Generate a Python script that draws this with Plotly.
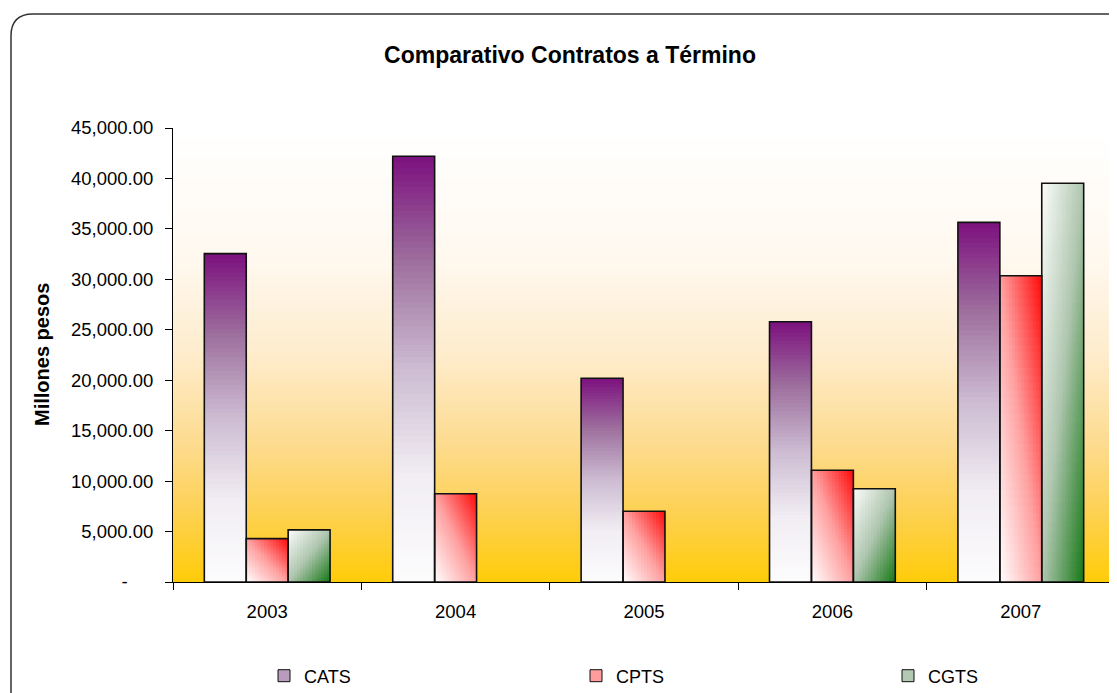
import base64
import struct
import zlib

import plotly.graph_objects as go

# ------------------------------------------------
# DATA
# ------------------------------------------------
years = ["2003", "2004", "2005", "2006", "2007"]
cats = [32550, 42200, 20200, 25800, 35650]
cpts = [4300, 8740, 7020, 11080, 30350]
cgts = [5170, None, None, 9240, 39530]

y_ticks = [0, 5000, 10000, 15000, 20000, 25000, 30000, 35000, 40000, 45000]

# the page body has an 8px margin, so the figure is drawn 8px smaller
W, H = 1109, 685


# ------------------------------------------------
# HELPERS
# ------------------------------------------------
def mix(stops, t):
    t = min(max(t, 0.0), 1.0)
    for (t0, c0), (t1, c1) in zip(stops[:-1], stops[1:]):
        if t <= t1:
            f = 0 if t1 == t0 else (t - t0) / (t1 - t0)
            return tuple(round(a + (b - a) * f) for a, b in zip(c0, c1))
    return stops[-1][1]


def rgb(c):
    return "rgb(%d,%d,%d)" % c


def gradient_png(stops, h=256, w=4):
    raw = b""
    for i in range(h):
        r, g, b = mix(stops, i / (h - 1))
        raw += b"\x00" + bytes([r, g, b]) * w

    def chunk(tag, data):
        out = struct.pack(">I", len(data)) + tag + data
        return out + struct.pack(">I", zlib.crc32(tag + data) & 0xFFFFFFFF)

    png = b"\x89PNG\r\n\x1a\n"
    png += chunk(b"IHDR", struct.pack(">IIBBBBB", w, h, 8, 2, 0, 0, 0))
    png += chunk(b"IDAT", zlib.compress(raw))
    png += chunk(b"IEND", b"")
    return "data:image/png;base64," + base64.b64encode(png).decode()


# plot area background: white on top, gold at the bottom
bg_stops = [
    (0.00, (255, 255, 255)),
    (0.30, (255, 248, 238)),
    (0.50, (254, 236, 204)),
    (0.70, (253, 219, 142)),
    (0.85, (253, 209, 82)),
    (1.00, (255, 204, 10)),
]

cats_stops = [  # bottom -> top
    (0.00, (252, 252, 253)),
    (0.25, (241, 237, 243)),
    (0.50, (205, 188, 210)),
    (0.75, (158, 112, 158)),
    (1.00, (124, 16, 126)),
]
cpts_stops = [(0.0, (255, 255, 255)), (0.5, (255, 160, 160)), (1.0, (255, 10, 10))]
cgts_stops = [(0.0, (252, 253, 252)), (0.5, (175, 198, 175)), (1.0, (22, 120, 22))]

bar_w = 0.2225
offsets = [-1.5 * bar_w, -0.5 * bar_w, 0.5 * bar_w]


def gradient_bars(values, off, stops, shade, cols, rows):
    # each bar is filled with a grid of small overlapping cells
    xs, bases, hs, offs, widths, colors = [], [], [], [], [], []
    for yr, v in zip(years, values):
        if v is None:
            continue
        for j in range(cols):
            fx = (j + 0.5) / cols
            cw = bar_w / cols * (1 if j == cols - 1 else 1.6)
            for k in range(rows):
                fy = (k + 0.5) / rows
                xs.append(yr)
                bases.append(v * k / rows)
                hs.append(v / rows * (1 if k == rows - 1 else 1.6))
                offs.append(off + j * bar_w / cols)
                widths.append(cw)
                colors.append(rgb(mix(stops, shade(fx, fy))))
    return go.Bar(
        x=xs, y=hs, base=bases, offset=offs, width=widths,
        marker=dict(color=colors, line=dict(width=0)),
        showlegend=False, hoverinfo="skip",
    )


fig = go.Figure()

# gradient fills
fig.add_trace(gradient_bars(cats, offsets[0], cats_stops, lambda fx, fy: fy, 1, 70))
fig.add_trace(gradient_bars(cpts, offsets[1], cpts_stops, lambda fx, fy: (fx + fy) / 2, 14, 40))
fig.add_trace(gradient_bars(cgts, offsets[2], cgts_stops, lambda fx, fy: (fx + 1 - fy) / 2, 14, 40))

# outlines
for vals, off in zip([cats, cpts, cgts], offsets):
    fig.add_trace(go.Bar(
        x=years, y=vals, offset=off, width=bar_w,
        marker=dict(color="rgba(0,0,0,0)", line=dict(color="#111111", width=1.6)),
        showlegend=False,
        hovertemplate="%{x}: %{y:,.2f}<extra></extra>",
    ))

# legend entries, one legend each so they can be spread out
names = ["CATS", "CPTS", "CGTS"]
legend_cols = ["#b99bbd", "#ff9c9c", "#b3c9b3"]
legend_ids = ["legend", "legend2", "legend3"]
for name, col, lid in zip(names, legend_cols, legend_ids):
    fig.add_trace(go.Bar(
        x=[years[0]], y=[None], name=name, legend=lid,
        marker=dict(color=col, line=dict(color="#111111", width=1)),
    ))

legend_style = dict(
    orientation="h", xref="container", yref="container",
    xanchor="left", yanchor="middle", y=1 - 668 / H,
    font=dict(size=18), bgcolor="rgba(0,0,0,0)",
)

tick_text = ["-\u00a0\u00a0\u00a0\u00a0\u00a0" if v == 0 else f"{v:,.2f}" for v in y_ticks]

fig.update_layout(
    width=W,
    height=H,
    barmode="overlay",
    paper_bgcolor="white",
    plot_bgcolor="rgba(0,0,0,0)",
    font=dict(family="Liberation Sans, Arial, sans-serif", color="black", size=18),
    margin=dict(l=165, r=2, t=120, b=111),
    title=dict(
        text="<b>Comparativo Contratos a Término</b>",
        x=562 / W, xanchor="center", xref="container",
        y=1 - 47 / H, yanchor="middle", yref="container",
        font=dict(size=23, color="black"),
    ),
    xaxis=dict(
        type="category",
        showline=True, linecolor="black", linewidth=1,
        ticks="outside", ticklen=7, tickcolor="black", tickson="boundaries",
        showgrid=False, ticklabelstandoff=13,
        tickfont=dict(size=18.5),
    ),
    yaxis=dict(
        range=[0, 45000],
        tickvals=y_ticks, ticktext=tick_text,
        showline=True, linecolor="black", linewidth=1,
        ticks="outside", ticklen=7, tickcolor="black",
        showgrid=False, zeroline=False, ticklabelstandoff=8,
        tickfont=dict(size=18.5),
    ),
    legend=dict(legend_style, x=256 / W),
    legend2=dict(legend_style, x=568 / W),
    legend3=dict(legend_style, x=880 / W),
    images=[dict(
        source=gradient_png(bg_stops),
        xref="paper", yref="paper", x=0, y=1, sizex=1, sizey=1,
        sizing="stretch", layer="below",
    )],
    annotations=[dict(
        text="<b>Millones pesos</b>",
        xref="paper", yref="paper", x=(42 - 173) / 942, y=0.5,
        xanchor="center", yanchor="middle", textangle=-90,
        showarrow=False, font=dict(size=20, color="black"),
    )],
)

# rounded chart border (right and bottom edges fall outside the picture)
x0 = (11 - 173) / 942
yt = (582 - 14) / 454
rx = 22 / 942
ry = 22 / 454
fig.add_shape(
    type="path", xref="paper", yref="paper",
    path=f"M {x0},-0.6 L {x0},{yt - ry} Q {x0},{yt} {x0 + rx},{yt} L 1.3,{yt}",
    line=dict(color="#333333", width=1.5),
)

fig.write_html("out.html")
